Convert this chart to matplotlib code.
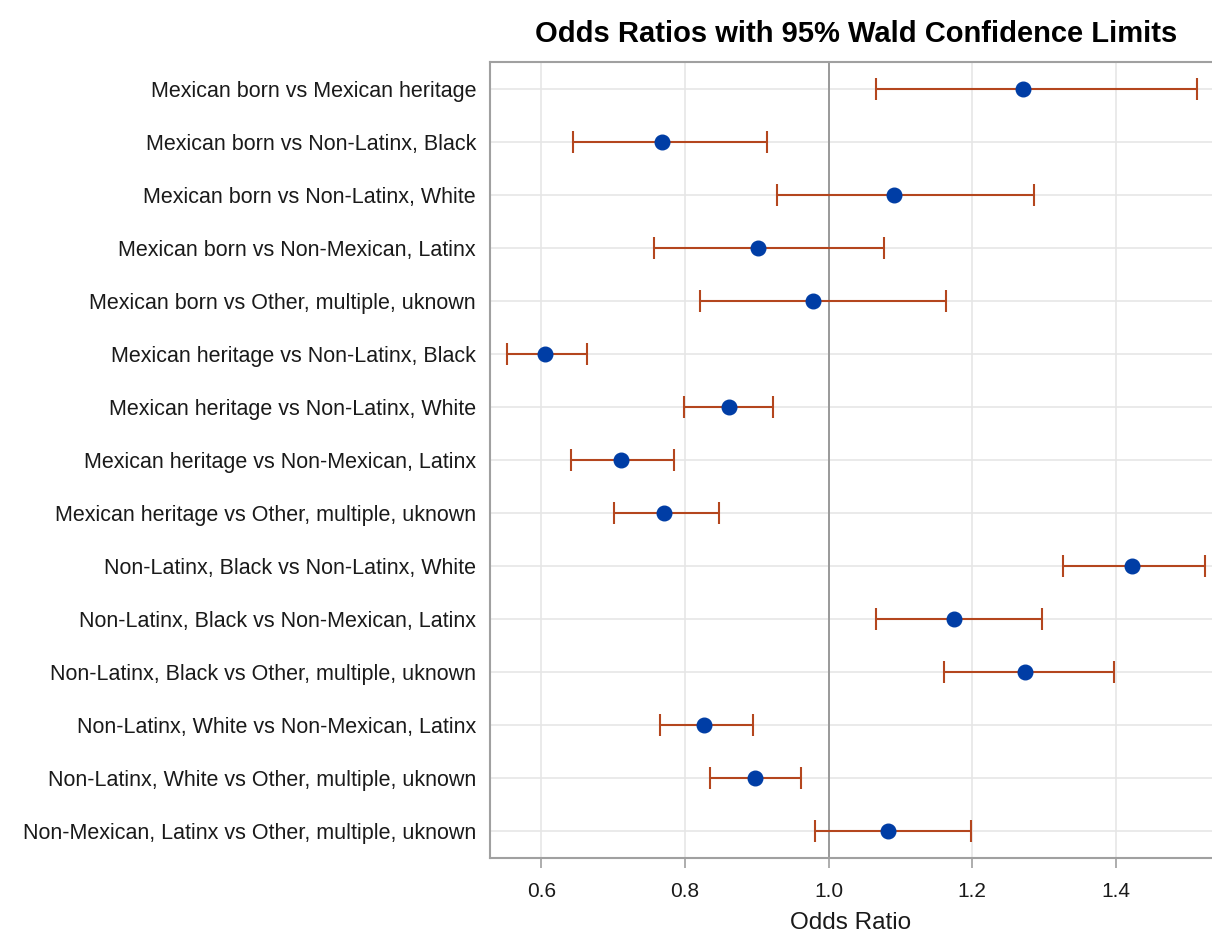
import numpy as np
import matplotlib.pyplot as plt

plt.rcParams['font.family'] = ['Liberation Sans', 'DejaVu Sans']

labels = [
    'Mexican born vs Mexican heritage',
    'Mexican born vs Non-Latinx, Black',
    'Mexican born vs Non-Latinx, White',
    'Mexican born vs Non-Mexican, Latinx',
    'Mexican born vs Other, multiple, uknown',
    'Mexican heritage vs Non-Latinx, Black',
    'Mexican heritage vs Non-Latinx, White',
    'Mexican heritage vs Non-Mexican, Latinx',
    'Mexican heritage vs Other, multiple, uknown',
    'Non-Latinx, Black vs Non-Latinx, White',
    'Non-Latinx, Black vs Non-Mexican, Latinx',
    'Non-Latinx, Black vs Other, multiple, uknown',
    'Non-Latinx, White vs Non-Mexican, Latinx',
    'Non-Latinx, White vs Other, multiple, uknown',
    'Non-Mexican, Latinx vs Other, multiple, uknown',
]
odds = [1.271, 0.768, 1.091, 0.902, 0.978, 0.605, 0.861, 0.711, 0.771,
        1.423, 1.175, 1.273, 0.827, 0.897, 1.083]
lower = [1.066, 0.644, 0.928, 0.757, 0.821, 0.552, 0.799, 0.642, 0.701,
         1.327, 1.066, 1.161, 0.765, 0.835, 0.981]
upper = [1.513, 0.914, 1.286, 1.077, 1.163, 0.664, 0.923, 0.785, 0.847,
         1.524, 1.297, 1.397, 0.895, 0.962, 1.198]
xticks = [0.6, 0.8, 1.0, 1.2, 1.4]

odds = np.array(odds)
err = np.array([odds - np.array(lower), np.array(upper) - odds])
y = np.arange(len(labels))

fig = plt.figure(figsize=(12.12, 9.33), dpi=100)
ax = fig.add_axes([490 / 1212, 1 - 858 / 933, 1 - 490 / 1212, (858 - 62) / 933])

ax.errorbar(odds, y, xerr=err, fmt='none', ecolor='#B4461E', elinewidth=1.5,
            capsize=8, capthick=1.5, zorder=3)
ax.plot(odds, y, 'o', color='#003DA5', markersize=10.5, zorder=4)
ax.axvline(1.0, color='#8C8C8C', lw=1.2, zorder=2)

ax.set_xlim(0.5285, 1.534)
ax.set_ylim(len(labels) - 0.5, -0.5)
ax.set_yticks(y)
ax.set_yticklabels(labels, fontsize=15.5, color='#1a1a1a')
ax.set_xticks(xticks)
ax.set_xticklabels(['%.1f' % v for v in xticks], fontsize=15, color='#1a1a1a')
ax.tick_params(axis='y', length=0, pad=10)
ax.tick_params(axis='x', length=7.5, color='#A0A0A0', width=1.2, pad=10)
ax.grid(True, color='#E6E6E6', lw=1.2, zorder=0)
ax.set_axisbelow(True)
for s in ['left', 'bottom', 'top']:
    ax.spines[s].set_color('#A0A0A0')
    ax.spines[s].set_linewidth(1.5)
ax.spines['right'].set_visible(False)

ax.set_xlabel('Odds Ratio', fontsize=17.5, color='#1a1a1a', labelpad=8)
fig.text(856 / 1212, 1 - 34 / 933, 'Odds Ratios with 95% Wald Confidence Limits',
         ha='center', va='center', fontsize=21, fontweight='bold')

fig.savefig('out.png', dpi=100)
